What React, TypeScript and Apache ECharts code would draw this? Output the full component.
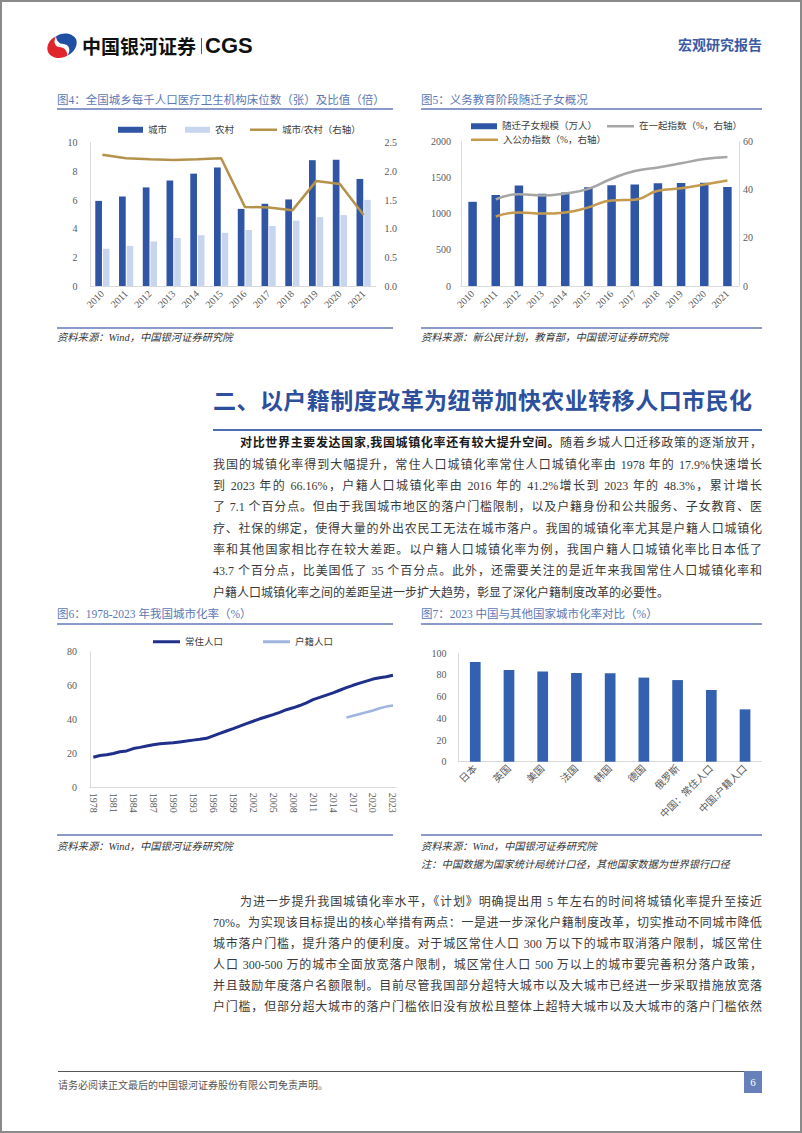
import React, { useEffect, useRef } from "react";
import * as echarts from "echarts";

// ---------- DATA ----------
const years4 = ["2010", "2011", "2012", "2013", "2014", "2015", "2016", "2017", "2018", "2019", "2020", "2021"];
const cityBeds = [5.94, 6.24, 6.88, 7.36, 7.84, 8.27, 5.38, 5.74, 6.04, 8.78, 8.81, 7.47];
const ruralBeds = [2.6, 2.8, 3.11, 3.35, 3.54, 3.71, 3.91, 4.19, 4.56, 4.81, 4.95, 6.01];
const bedRatio = [2.29, 2.23, 2.21, 2.2, 2.21, 2.23, 1.38, 1.37, 1.32, 1.83, 1.78, 1.24];

const years5 = ["2010", "2011", "2012", "2013", "2014", "2015", "2016", "2017", "2018", "2019", "2020", "2021"];
const migrantKids = [1167, 1261, 1394, 1277, 1295, 1367, 1395, 1407, 1424, 1427, 1430, 1372];
const togetherIdx = [null, 36.0, 38.2, 37.6, 38.5, 40.4, 44.6, 47.8, 49.3, 51.0, 52.8, 53.6];
const publicIdx = [null, 28.9, 30.6, 30.1, 30.6, 32.7, 35.6, 35.9, 39.6, 40.6, 42.2, 43.9];

const years6 = [
  "1978", "1979", "1980", "1981", "1982", "1983", "1984", "1985", "1986", "1987", "1988", "1989",
  "1990", "1991", "1992", "1993", "1994", "1995", "1996", "1997", "1998", "1999", "2000", "2001",
  "2002", "2003", "2004", "2005", "2006", "2007", "2008", "2009", "2010", "2011", "2012", "2013",
  "2014", "2015", "2016", "2017", "2018", "2019", "2020", "2021", "2022", "2023",
];
const residentRate = [
  17.92, 18.96, 19.39, 20.16, 21.13, 21.62, 23.01, 23.71, 24.52, 25.32, 25.81, 26.21,
  26.41, 26.94, 27.46, 27.99, 28.51, 29.04, 30.48, 31.91, 33.35, 34.78, 36.22, 37.66,
  39.09, 40.53, 41.76, 42.99, 44.34, 45.89, 46.99, 48.34, 49.95, 51.83, 53.1, 54.49,
  55.75, 57.33, 58.84, 60.24, 61.5, 62.71, 63.89, 64.72, 65.22, 66.16,
];
const hukouRate = [
  null, null, null, null, null, null, null, null, null, null, null, null,
  null, null, null, null, null, null, null, null, null, null, null, null,
  null, null, null, null, null, null, null, null, null, null, null, null,
  null, null, 41.2, 42.35, 43.37, 44.38, 45.4, 46.7, 47.7, 48.3,
];

const countries = ["日本", "英国", "美国", "法国", "韩国", "德国", "俄罗斯", "中国：常住人口", "中国:户籍人口"];
const countryRate = [92.0, 84.6, 83.3, 81.8, 81.5, 77.6, 75.3, 66.16, 48.3];

// ---------- STYLE ----------
const FONT = "'Liberation Serif','Noto Sans CJK SC',serif";
const AXIS_LABEL = { color: "#595959", fontSize: 10, fontFamily: FONT };
const AXIS_LINE = { show: true, lineStyle: { color: "#d9d9d9", width: 1 } };
const LEGEND_TEXT = { fontSize: 9.5, color: "#404040", fontFamily: FONT };
const plain = (v: number) => String(v);

function legendItem(name: string, left: number, top: number, w: number, h: number) {
  return {
    data: [name],
    left,
    top,
    icon: "rect",
    itemWidth: w,
    itemHeight: h,
    itemGap: 0,
    padding: 0,
    textStyle: LEGEND_TEXT,
  };
}

const option4 = {
  animation: false,
  textStyle: { fontFamily: FONT },
  legend: [
    legendItem("城市", 61, 13, 25, 6),
    legendItem("农村", 128, 13, 25, 6),
    legendItem("城市/农村（右轴）", 193, 13, 27, 2.5),
  ],
  grid: { left: 33.5, top: 30.7, width: 285.5, height: 143.3 },
  xAxis: {
    type: "category",
    data: years4,
    axisLine: AXIS_LINE,
    axisTick: { show: false },
    axisLabel: { ...AXIS_LABEL, rotate: 45, interval: 0, margin: 6 },
  },
  yAxis: [
    {
      type: "value", min: 0, max: 10, interval: 2,
      axisLine: AXIS_LINE, axisTick: { show: false }, splitLine: { show: false },
      axisLabel: { ...AXIS_LABEL, margin: 13, formatter: plain },
    },
    {
      type: "value", min: 0, max: 2.5, interval: 0.5, position: "right",
      axisLine: { show: false }, axisTick: { show: false }, splitLine: { show: false },
      axisLabel: { ...AXIS_LABEL, margin: 9, formatter: (v: number) => v.toFixed(1) },
    },
  ],
  series: [
    { name: "城市", type: "bar", data: cityBeds, barWidth: 6.7, barGap: "15%", itemStyle: { color: "#2F55A4" } },
    { name: "农村", type: "bar", data: ruralBeds, barWidth: 6.5, itemStyle: { color: "#C8D5EE" } },
    {
      name: "城市/农村（右轴）", type: "line", yAxisIndex: 1, data: bedRatio, symbol: "none",
      lineStyle: { width: 2.5, color: "#B4924C" }, itemStyle: { color: "#B4924C" },
    },
  ],
};

const option5 = {
  animation: false,
  textStyle: { fontFamily: FONT },
  legend: [
    legendItem("随迁子女规模（万人）", 50, 9.5, 26, 6),
    legendItem("在一起指数（%，右轴）", 186, 9.5, 27, 2.5),
    legendItem("入公办指数（%，右轴）", 50, 23, 27, 2.5),
  ],
  grid: { left: 40, top: 29.7, width: 278, height: 144.3 },
  xAxis: {
    type: "category",
    data: years5,
    axisLine: AXIS_LINE,
    axisTick: { show: false },
    axisLabel: { ...AXIS_LABEL, rotate: 45, interval: 0, margin: 6 },
  },
  yAxis: [
    {
      type: "value", min: 0, max: 2000, interval: 500,
      axisLine: AXIS_LINE, axisTick: { show: false }, splitLine: { show: false },
      axisLabel: { ...AXIS_LABEL, margin: 10, formatter: plain },
    },
    {
      type: "value", min: 0, max: 60, interval: 20, position: "right",
      axisLine: AXIS_LINE, axisTick: { show: false }, splitLine: { show: false },
      axisLabel: { ...AXIS_LABEL, margin: 4, formatter: plain },
    },
  ],
  series: [
    { name: "随迁子女规模（万人）", type: "bar", data: migrantKids, barWidth: 8.5, itemStyle: { color: "#2F56A6" } },
    {
      name: "在一起指数（%，右轴）", type: "line", yAxisIndex: 1, data: togetherIdx, symbol: "none", smooth: true,
      lineStyle: { width: 2.5, color: "#A6A6A6" }, itemStyle: { color: "#A6A6A6" },
    },
    {
      name: "入公办指数（%，右轴）", type: "line", yAxisIndex: 1, data: publicIdx, symbol: "none", smooth: true,
      lineStyle: { width: 2.5, color: "#C49A4F" }, itemStyle: { color: "#C49A4F" },
    },
  ],
};

const option6 = {
  animation: false,
  textStyle: { fontFamily: FONT },
  legend: [
    legendItem("常住人口", 96, 10, 27, 3),
    legendItem("户籍人口", 206, 10, 27, 3),
  ],
  grid: { left: 33, top: 24.7, width: 306.3, height: 136 },
  xAxis: {
    type: "category",
    data: years6,
    boundaryGap: true,
    axisLine: AXIS_LINE,
    axisTick: { show: false },
    axisLabel: { ...AXIS_LABEL, rotate: -90, interval: 2, margin: 5 },
  },
  yAxis: {
    type: "value", min: 0, max: 80, interval: 20,
    axisLine: AXIS_LINE, axisTick: { show: false }, splitLine: { show: false },
    axisLabel: { ...AXIS_LABEL, margin: 13, formatter: plain },
  },
  series: [
    {
      name: "常住人口", type: "line", data: residentRate, symbol: "none",
      lineStyle: { width: 3, color: "#1F2F8A" }, itemStyle: { color: "#1F2F8A" },
    },
    {
      name: "户籍人口", type: "line", data: hukouRate, symbol: "none",
      lineStyle: { width: 2.5, color: "#9FB4DE" }, itemStyle: { color: "#9FB4DE" },
    },
  ],
};

const option7 = {
  animation: false,
  textStyle: { fontFamily: FONT },
  grid: { left: 37.4, top: 26.3, width: 303.5, height: 108.4 },
  xAxis: {
    type: "category",
    data: countries,
    axisLine: AXIS_LINE,
    axisTick: { show: false },
    axisLabel: { ...AXIS_LABEL, rotate: 45, interval: 0, margin: 5 },
  },
  yAxis: {
    type: "value", min: 0, max: 100, interval: 20,
    axisLine: AXIS_LINE, axisTick: { show: false }, splitLine: { show: false },
    axisLabel: { ...AXIS_LABEL, margin: 12, formatter: plain },
  },
  series: [
    { name: "城市化率", type: "bar", data: countryRate, barWidth: 10.7, itemStyle: { color: "#3461AF" } },
  ],
};

// ---------- COMPONENTS ----------
function Chart({ option, left, top, width, height }: any) {
  const ref = useRef<HTMLDivElement>(null);
  useEffect(() => {
    const c = echarts.init(ref.current!, null, { renderer: "svg" });
    c.setOption(option);
    return () => c.dispose();
  }, []);
  return <div ref={ref} style={{ position: "absolute", left, top, width, height }} />;
}

function Txt({ x, y, size, color = "#333", bold, italic, family, w, justify, lh = 20, children }: any) {
  return (
    <div
      style={{
        position: "absolute",
        left: x,
        top: y - lh / 2,
        height: lh,
        lineHeight: lh + "px",
        fontSize: size,
        color,
        fontWeight: bold ? 700 : 400,
        fontStyle: italic ? "italic" : "normal",
        fontFamily: family || FONT,
        whiteSpace: justify ? "normal" : "nowrap",
        width: w,
        textAlign: justify ? "justify" : "left",
        textAlignLast: justify ? "justify" : "auto",
        overflow: "visible",
      } as any}
    >
      {children}
    </div>
  );
}

function HLine({ x, y, w, h = 1.5, color }: any) {
  return <div style={{ position: "absolute", left: x, top: y, width: w, height: h, background: color }} />;
}

const TITLE_C = "#5B79B5";
const RULE_C = "#8A9BC9";
const BODY_C = "#3a3a3a";

const para1 = [
  "我国的城镇化率得到大幅提升，常住人口城镇化率常住人口城镇化率由 1978 年的 17.9%快速增长",
  "到 2023 年的 66.16%，户籍人口城镇化率由 2016 年的 41.2%增长到 2023 年的 48.3%，累计增长",
  "了 7.1 个百分点。但由于我国城市地区的落户门槛限制，以及户籍身份和公共服务、子女教育、医",
  "疗、社保的绑定，使得大量的外出农民工无法在城市落户。我国的城镇化率尤其是户籍人口城镇化",
  "率和其他国家相比存在较大差距。以户籍人口城镇化率为例，我国户籍人口城镇化率比日本低了",
  "43.7 个百分点，比美国低了 35 个百分点。此外，还需要关注的是近年来我国常住人口城镇化率和",
];
const para1Last = "户籍人口城镇化率之间的差距呈进一步扩大趋势，彰显了深化户籍制度改革的必要性。";
const para2First = "为进一步提升我国城镇化率水平，《计划》明确提出用 5 年左右的时间将城镇化率提升至接近";
const para2 = [
  "70%。为实现该目标提出的核心举措有两点：一是进一步深化户籍制度改革，切实推动不同城市降低",
  "城市落户门槛，提升落户的便利度。对于城区常住人口 300 万以下的城市取消落户限制，城区常住",
  "人口 300-500 万的城市全面放宽落户限制，城区常住人口 500 万以上的城市要完善积分落户政策，",
  "并且鼓励年度落户名额限制。目前尽管我国部分超特大城市以及大城市已经进一步采取措施放宽落",
  "户门槛，但部分超大城市的落户门槛依旧没有放松且整体上超特大城市以及大城市的落户门槛依然",
];

export default function App() {
  useEffect(() => {
    document.body.style.margin = "0";
  }, []);
  return (
    <div style={{ position: "absolute", left: 0, top: 0, width: 802, height: 1133, background: "#fff", overflow: "hidden", fontFamily: FONT }}>
      {/* page frame */}
      <div style={{ position: "absolute", left: 0, top: 0, width: 802, height: 1133, boxSizing: "border-box", border: "2px solid #8a8a8a", pointerEvents: "none" }} />

      {/* header */}
      <svg style={{ position: "absolute", left: 47, top: 32 }} width={30} height={27} viewBox="0 0 30 27">
        <path d="M9,4.5 C14,0 25,0 29,7 C31.5,13 27,21 20.5,23.5 C24,18.5 22.5,12.5 16.5,12 C12,11.8 9.5,9 9,4.5 Z" fill="#1E4FA3" />
        <path d="M20.5,23.5 C15,27.5 4.5,27 1,20 C-1.5,13.5 3.5,6.5 9,4.5 C6,9.5 7.5,15 13.5,15.2 C17.5,15.5 20,18.5 20.5,23.5 Z" fill="#E0262C" />
      </svg>
      <Txt x={82} y={45.5} size={19} bold color="#111" family="'Noto Sans CJK SC',sans-serif" lh={26}>中国银河证券</Txt>
      <div style={{ position: "absolute", left: 201, top: 38, width: 1.2, height: 16, background: "#D9262C" }} />
      <Txt x={205} y={45.5} size={22} bold color="#111" family="'Liberation Sans',Arial,sans-serif" lh={26}>CGS</Txt>
      <Txt x={678} y={45.6} size={14} bold color="#3A5BA5" lh={22}>宏观研究报告</Txt>

      {/* figure 4 & 5 */}
      <Txt x={57} y={99.5} size={11.5} color={TITLE_C}>图4：全国城乡每千人口医疗卫生机构床位数（张）及比值（倍）</Txt>
      <HLine x={57} y={108.3} w={336} color={RULE_C} />
      <Txt x={421} y={99.5} size={11.5} color={TITLE_C}>图5：义务教育阶段随迁子女概况</Txt>
      <HLine x={421} y={108.3} w={341} color={RULE_C} />

      <Chart option={option4} left={57} top={112} width={343} height={215} />
      <Chart option={option5} left={421} top={112} width={341} height={215} />

      <HLine x={57} y={327.3} w={336} color={RULE_C} />
      <HLine x={421} y={327.3} w={341} color={RULE_C} />
      <Txt x={57} y={337.5} size={10.3} italic color="#333">资料来源：Wind，中国银河证券研究院</Txt>
      <Txt x={421} y={337.5} size={10.3} italic color="#333">资料来源：新公民计划，教育部，中国银河证券研究院</Txt>

      {/* section heading */}
      <Txt x={213} y={401.7} size={23} bold color="#2C4F9E" w={539} justify lh={30}>二、以户籍制度改革为纽带加快农业转移人口市民化</Txt>
      <HLine x={213} y={428.5} w={549} h={2} color="#4F6DAE" />

      {/* paragraph 1 */}
      <Txt x={240} y={443.3} size={12} color={BODY_C} w={522} justify>
        <b style={{ color: "#1a1a1a" }}>对比世界主要发达国家,我国城镇化率还有较大提升空间。</b>随着乡城人口迁移政策的逐渐放开，
      </Txt>
      {para1.map((t, i) => (
        <Txt key={i} x={213} y={443.3 + 21.35 * (i + 1)} size={12} color={BODY_C} w={549} justify>{t}</Txt>
      ))}
      <Txt x={213} y={443.3 + 21.35 * 7} size={12} color={BODY_C}>{para1Last}</Txt>

      {/* figure 6 & 7 */}
      <Txt x={57} y={614} size={11.5} color={TITLE_C}>图6：1978-2023 年我国城市化率（%）</Txt>
      <HLine x={57} y={623.3} w={336} color={RULE_C} />
      <Txt x={421} y={614} size={11.5} color={TITLE_C}>图7：2023 中国与其他国家城市化率对比（%）</Txt>
      <HLine x={421} y={623.3} w={341} color={RULE_C} />

      <Chart option={option6} left={57} top={627} width={343} height={207} />
      <Chart option={option7} left={421} top={627} width={341} height={207} />

      <HLine x={57} y={834.3} w={336} color={RULE_C} />
      <HLine x={421} y={834.3} w={341} color={RULE_C} />
      <Txt x={57} y={846.5} size={10.3} italic color="#333">资料来源：Wind，中国银河证券研究院</Txt>
      <Txt x={421} y={846.5} size={10.3} italic color="#333">资料来源：Wind，中国银河证券研究院</Txt>
      <Txt x={421} y={865} size={10.3} italic color="#333">注：中国数据为国家统计局统计口径，其他国家数据为世界银行口径</Txt>

      {/* paragraph 2 */}
      <Txt x={240} y={901.7} size={12} color={BODY_C} w={522} justify>{para2First}</Txt>
      {para2.map((t, i) => (
        <Txt key={i} x={213} y={901.7 + 21 * (i + 1)} size={12} color={BODY_C} w={549} justify>{t}</Txt>
      ))}

      {/* footer */}
      <HLine x={58} y={1070.5} w={704} h={1.3} color="#555" />
      <Txt x={58} y={1086} size={10} color="#555">请务必阅读正文最后的中国银河证券股份有限公司免责声明。</Txt>
      <div style={{ position: "absolute", left: 744, top: 1071, width: 18, height: 22, background: "#6680BA", color: "#fff", fontSize: 11, lineHeight: "22px", textAlign: "center", fontFamily: FONT }}>6</div>
    </div>
  );
}
